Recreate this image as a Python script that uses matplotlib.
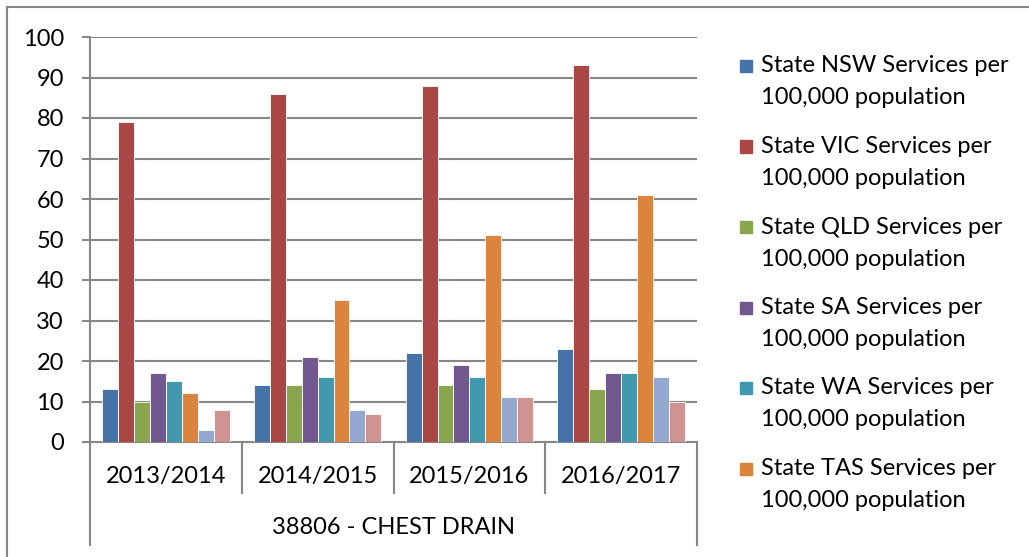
import numpy as np
import matplotlib
matplotlib.use("Agg")
import matplotlib.pyplot as plt
import matplotlib.transforms as mtransforms
from matplotlib.lines import Line2D
from matplotlib.patches import Rectangle

# ── Data ──────────────────────────────────────────────────────────────────────
years = ["2013/2014", "2014/2015", "2015/2016", "2016/2017"]
group_label = "38806 - CHEST DRAIN"
states = ["NSW", "VIC", "QLD", "SA", "WA", "TAS", "ACT", "NT"]

nsw = [13, 14, 22, 23]
vic = [79, 86, 88, 93]
qld = [10, 14, 14, 13]
sa  = [17, 21, 19, 17]
wa  = [15, 16, 16, 17]
tas = [12, 35, 51, 61]
act = [3, 8, 11, 16]
nt  = [8, 7, 11, 10]

series = [nsw, vic, qld, sa, wa, tas, act, nt]
labels = [f"State {s} Services per\n100,000 population" for s in states]
n_legend = 6  # only the first six entries fit in the visible legend

colors = ["#4572A7", "#AA4643", "#89A54E", "#71588F",
          "#4198AF", "#DB843D", "#93A9CF", "#D19392"]
GRID = "#878787"

plt.rcParams["font.family"] = ["Lato", "DejaVu Sans"]
FS = 17

# ── Figure ────────────────────────────────────────────────────────────────────
W, H = 1029, 557
fig = plt.figure(figsize=(W / 100, H / 100), dpi=100)
ax = fig.add_axes([90 / W, (H - 442) / H, (697 - 90) / W, (442 - 37) / H])

x = np.arange(len(years))
bw = 0.105
for i, vals in enumerate(series):
    ax.bar(x + (i - 3.5) * bw, vals, width=bw, color=colors[i],
           edgecolor="white", linewidth=0.6, zorder=3)

ax.set_xlim(-0.5, len(years) - 0.5)
ax.set_ylim(0, 100)
ax.set_yticks(np.arange(0, 101, 10))
ax.yaxis.grid(True, color=GRID, linewidth=1.5, zorder=0)
ax.tick_params(axis="y", length=5.8, width=1.5, color=GRID, pad=13,
               labelsize=FS)
ax.set_xticks([])
for side in ["top", "right"]:
    ax.spines[side].set_visible(False)
for side in ["left", "bottom"]:
    ax.spines[side].set_color(GRID)
    ax.spines[side].set_linewidth(1.5)

# category axis boxes below the plot
trans = mtransforms.blended_transform_factory(ax.transData, ax.transAxes)
inner = -(493 - 442) / 405
outer = -(545 - 442) / 405
for k in range(len(years) + 1):
    xs = k - 0.5
    depth = outer if k in (0, len(years)) else inner
    ax.add_line(Line2D([xs, xs], [0, depth], transform=trans, color=GRID,
                       linewidth=1.5, clip_on=False))
for k, yr in enumerate(years):
    ax.text(k, -(477 - 442) / 405, yr, transform=trans, ha="center",
            va="center", fontsize=FS)
ax.text(1.5, -(527 - 442) / 405, group_label, transform=trans,
        ha="center", va="center", fontsize=FS)

# legend (drawn by hand so the swatch sits beside the first line)
for i in range(n_legend):
    y = 66 + i * 80.5
    fig.patches.append(Rectangle((740 / W, 1 - (y + 6) / H), 12 / W, 12 / H,
                                 transform=fig.transFigure,
                                 color=colors[i]))
    line1, line2 = labels[i].split("\n")
    fig.text(761 / W, 1 - y / H, line1, ha="left", va="center", fontsize=FS)
    fig.text(761 / W, 1 - (y + 32) / H, line2, ha="left", va="center",
             fontsize=FS)

# outer chart frame (top and left edges visible)
fig.add_artist(Line2D([7 / W, 7 / W], [0, 1 - 7 / H], color=GRID,
                      linewidth=1.5, transform=fig.transFigure))
fig.add_artist(Line2D([7 / W, 1], [1 - 7 / H, 1 - 7 / H], color=GRID,
                      linewidth=1.5, transform=fig.transFigure))

fig.savefig("out.png", dpi=100)
